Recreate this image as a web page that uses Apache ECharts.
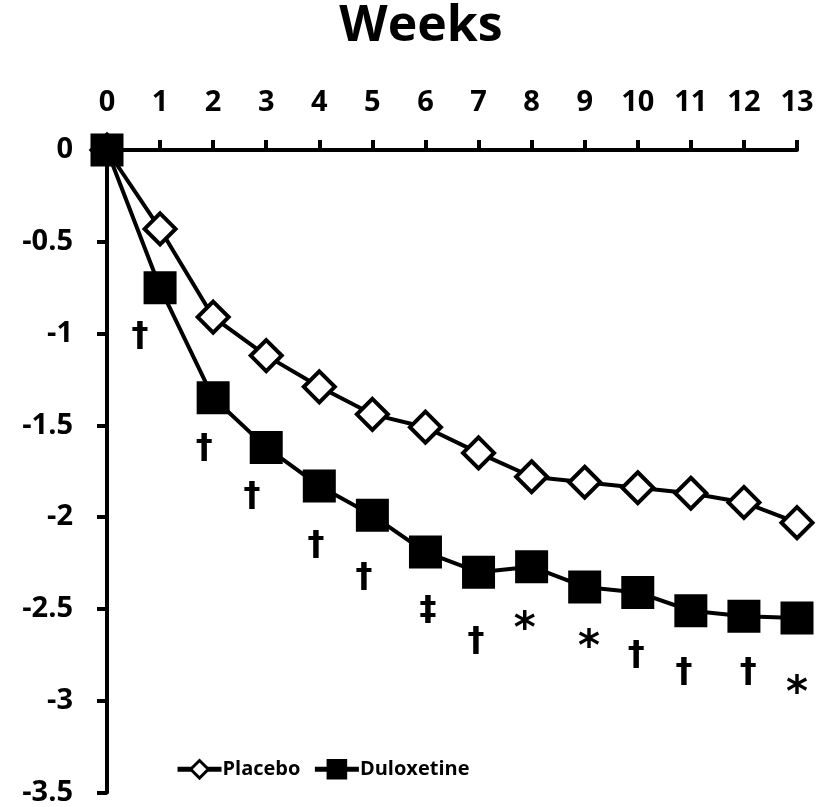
<!DOCTYPE html>
<html>
<head>
<meta charset="utf-8">
<script src="https://cdn.jsdelivr.net/npm/echarts@6/dist/echarts.min.js"></script>
<style>html,body{margin:0;padding:0;background:#fff}#c{width:820px;height:807px}</style>
</head>
<body>
<div id="c"></div>
<script>
var weeks = [0,1,2,3,4,5,6,7,8,9,10,11,12,13];
var placebo = [0, -0.43, -0.91, -1.12, -1.29, -1.44, -1.51, -1.65, -1.78, -1.81, -1.84, -1.87, -1.92, -2.03];
var duloxetine = [0, -0.75, -1.35, -1.62, -1.83, -1.99, -2.19, -2.30, -2.27, -2.38, -2.41, -2.51, -2.54, -2.55];
var markX = [0.62, 1.83, 2.73, 3.94, 4.84, 6.05, 6.95, 7.87, 9.08, 9.97, 10.87, 12.08, 13.0];
var markY = [-1.02, -1.63, -1.89, -2.16, -2.33, -2.51, -2.68, -2.57, -2.67, -2.76, -2.85, -2.85, -2.92];
var markText = ['\u2020','\u2020','\u2020','\u2020','\u2020','\u2021','\u2020','*','*','\u2020','\u2020','\u2020','*'];
var yTicks = ['0','-0.5','-1','-1.5','-2','-2.5','-3','-3.5'];
var seriesNames = ['Placebo','Duloxetine'];

var FONT = 'Open Sans';
var chart = echarts.init(document.getElementById('c'), null, {renderer:'canvas'});
var marks = markX.map(function(x,i){
  var isStar = markText[i] === '*';
  return {value:[x, markY[i]], label:{formatter: markText[i], fontSize: isStar ? 42 : 34, offset: isStar ? [0, 9] : [0, 0]}};
});

chart.setOption({
  animation:false,
  backgroundColor:'#fff',
  title:{text:'Weeks', top:2, left:421, textAlign:'center', padding:0,
    textStyle:{fontFamily:FONT, fontWeight:'bold', fontSize:50, color:'#000', lineHeight:50}},
  legend:{
    data: seriesNames.map(function(n){ return {name:n, lineStyle:{width:5, color:'#000'}, itemStyle:{borderWidth:3}}; }),
    left:170, top:754, itemWidth:44, itemHeight:22, itemGap:12,
    lineStyle:{width:5, color:'#000'},
    textStyle:{fontFamily:FONT, fontWeight:'bold', fontSize:20, color:'#000', padding:[0,0,0,-4]}
  },
  grid:{left:107, right:23, top:150, bottom:14, containLabel:false},
  xAxis:{
    type:'value', position:'top', min:0, max:13, interval:1,
    axisLine:{show:true, onZero:false, lineStyle:{color:'#000', width:4}},
    axisTick:{show:true, inside:false, length:10, lineStyle:{color:'#000', width:4}},
    splitLine:{show:false},
    axisLabel:{fontFamily:FONT, fontWeight:'bold', fontSize:29, color:'#000', margin:33}
  },
  yAxis:{
    type:'value', min:-3.5, max:0, interval:0.5,
    axisLine:{show:true, onZero:false, lineStyle:{color:'#000', width:4}},
    axisTick:{show:true, inside:false, length:10, lineStyle:{color:'#000', width:4}},
    splitLine:{show:false},
    axisLabel:{fontFamily:FONT, fontWeight:'bold', fontSize:29, color:'#000', margin:34,
      formatter:function(v){ var i = Math.round(-v/0.5); return yTicks[i]; }}
  },
  series:[
    {name:seriesNames[0], type:'line', data: weeks.map(function(w,i){return [w, placebo[i]];}),
      symbol:'diamond', symbolSize:31, showAllSymbol:true,
      lineStyle:{color:'#000', width:4},
      itemStyle:{color:'#fff', borderColor:'#000', borderWidth:4}, z:2},
    {name:seriesNames[1], type:'line', data: weeks.map(function(w,i){return [w, duloxetine[i]];}),
      symbol:'rect', symbolSize:33, showAllSymbol:true,
      lineStyle:{color:'#000', width:4},
      itemStyle:{color:'#000', borderColor:'#000', borderWidth:0}, z:3},
    {name:'sig', type:'scatter', data: marks, symbolSize:0, silent:true,
      itemStyle:{opacity:1, color:'#000'},
      label:{show:true, position:'inside', fontFamily:'DejaVu Sans', fontWeight:'bold', fontSize:34, color:'#000', opacity:1}, z:4}
  ]
});
</script>
</body>
</html>
